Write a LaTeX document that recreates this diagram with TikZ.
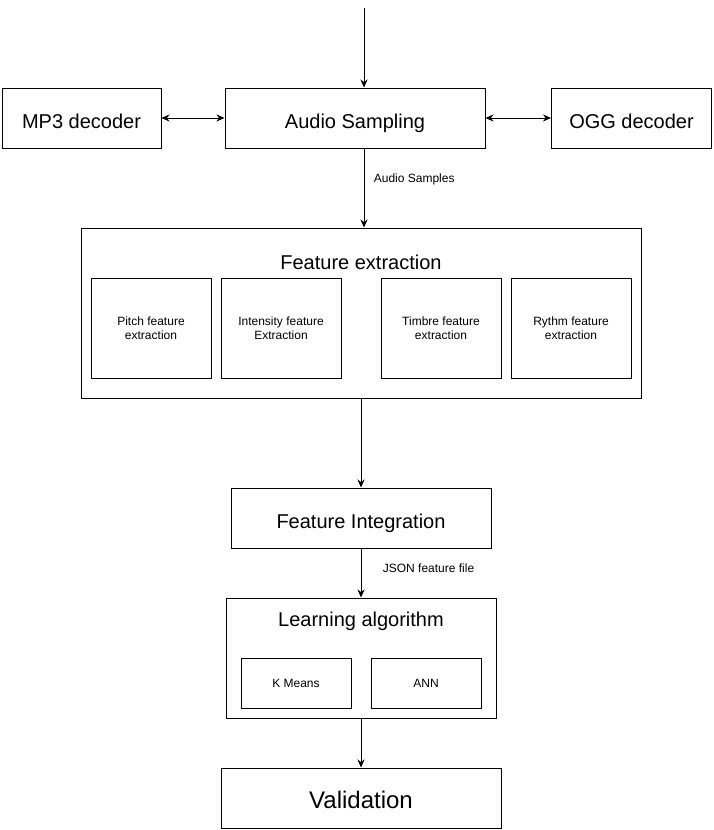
\documentclass[tikz,border=0pt]{standalone}
\usepackage{fontspec}
\setmainfont{Liberation Sans}
\usetikzlibrary{arrows.meta,positioning}

\tikzset{
    box/.style={draw, line width=1pt, align=center, inner sep=0pt},
    big/.style={font=\fontsize{20}{24}\selectfont, text height=21pt, text depth=1pt},
    huge/.style={font=\fontsize{24}{28}\selectfont, text height=22pt, text depth=2pt},
    small/.style={font=\fontsize{12}{14}\selectfont},
    arr/.style={line width=1pt, -{Stealth[length=8pt,width=7pt]}},
    darr/.style={line width=1pt, {Stealth[length=8pt,width=7pt]}-{Stealth[length=8pt,width=7pt]}}
}

\begin{document}
\begin{tikzpicture}[x=1pt,y=-1pt]
        \useasboundingbox (0,0) rectangle (713,830);

        % top row
        \node[box,big,minimum width=159pt,minimum height=60pt] (mp3) at (81.5,118) {MP3 decoder};
        \node[box,big,minimum width=260pt,minimum height=60pt] (sampling) at (355,118) {Audio Sampling};
        \node[box,big,minimum width=160pt,minimum height=60pt] (ogg) at (631.5,118) {OGG decoder};

        % feature extraction
        \node[box,minimum width=560pt,minimum height=170pt] (extract) at (361,313) {};
        \node[big] (extracttitle) at (361,259) {Feature extraction};
        \node[box,small,minimum width=120pt,minimum height=100pt] (pitch) at (151,328) {Pitch feature\\extraction};
        \node[box,small,minimum width=120pt,minimum height=100pt] (intensity) at (281,328) {Intensity feature\\Extraction};
        \node[box,small,minimum width=120pt,minimum height=100pt] (timbre) at (441,328) {Timbre feature\\extraction};
        \node[box,small,minimum width=120pt,minimum height=100pt] (rythm) at (571,328) {Rythm feature\\extraction};

        \node[box,big,minimum width=260pt,minimum height=60pt] (integ) at (361,518) {Feature Integration};

        % learning
        \node[box,minimum width=270pt,minimum height=120pt] (learn) at (361,658) {};
        \node[big] (learntitle) at (361,616) {Learning algorithm};
        \node[box,small,minimum width=110pt,minimum height=50pt] (kmeans) at (296,683) {K Means};
        \node[box,small,minimum width=110pt,minimum height=50pt] (ann) at (426,683) {ANN};

        \node[box,huge,minimum width=280pt,minimum height=60pt] (valid) at (361,798) {Validation};

        \coordinate (input) at (364,8);

        \draw[arr] (input) -- (input |- sampling.north);
        \draw[darr] (mp3) -- (sampling);
        \draw[darr] (sampling) -- (ogg);
        \draw[arr] (input |- sampling.south) -- (input |- extract.north)
            node[small,pos=0.39,right=6pt] {Audio Samples};
        \draw[arr] (extract.south -| integ) -- (integ);
        \draw[arr] (integ) -- (learn)
            node[small,pos=0.4,right=18pt] {JSON feature file};
        \draw[arr] (learn) -- (valid);

\end{tikzpicture}
\end{document}
